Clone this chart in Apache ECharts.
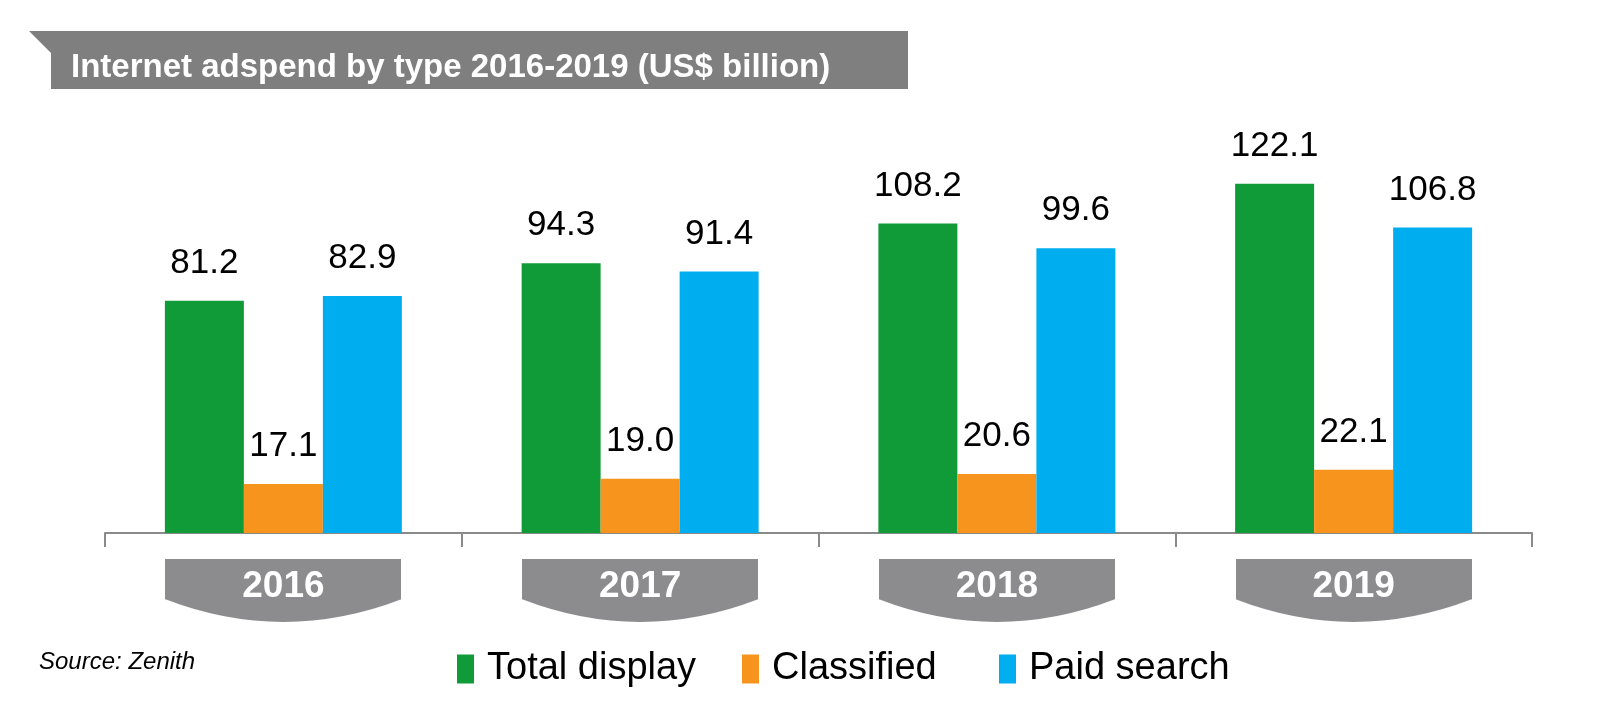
<!DOCTYPE html>
<html>
<head>
<meta charset="utf-8">
<script src="https://cdn.jsdelivr.net/npm/echarts@6/dist/echarts.min.js"></script>
<style>
html, body { margin: 0; padding: 0; background: #fff; }
#main { width: 1600px; height: 710px; }
</style>
</head>
<body>
<div id="main"></div>
<script>
var years = ['2016', '2017', '2018', '2019'];
var seriesNames = ['Total display', 'Classified', 'Paid search'];
var totalDisplay = [81.2, 94.3, 108.2, 122.1];
var classified = [17.1, 19.0, 20.6, 22.1];
var paidSearch = [82.9, 91.4, 99.6, 106.8];

// grey tab behind each year label: flat top, curved bottom
function makeTab(w, h) {
    var c = document.createElement('canvas');
    c.width = w;
    c.height = h;
    var ctx = c.getContext('2d');
    var side = h * 0.64;
    ctx.fillStyle = '#8c8c8e';
    ctx.beginPath();
    ctx.moveTo(0, 0);
    ctx.lineTo(w, 0);
    ctx.lineTo(w, side);
    ctx.quadraticCurveTo(w / 2, h + (h - side), 0, side);
    ctx.closePath();
    ctx.fill();
    return c;
}
var tab = makeTab(236, 63);

var myChart = echarts.init(document.getElementById('main'));
var labelStyle = {
    show: true,
    position: 'top',
    distance: 20,
    color: '#000',
    fontSize: 35,
    fontFamily: 'Liberation Sans',
    formatter: function (p) { return p.value.toFixed(1); }
};

// one legend per item so the gaps can follow the original
var legendLeft = [452, 737, 994];
var legends = seriesNames.map(function (name, i) {
    return {
        left: legendLeft[i],
        top: 645,
        itemWidth: 17,
        itemHeight: 29,
        icon: 'rect',
        textStyle: {
            fontSize: 38,
            fontFamily: 'Liberation Sans',
            color: '#000',
            padding: [0, 0, 0, 8]
        },
        data: [name]
    };
});

option = {
    animation: false,
    title: {
        text: 'Internet adspend by type 2016-2019 (US$ billion)',
        left: 66,
        top: 46,
        textStyle: {
            color: '#fff',
            fontSize: 33,
            fontWeight: 'bold',
            fontFamily: 'Liberation Sans'
        }
    },
    graphic: [{
        type: 'polygon',
        z: -1,
        shape: {
            points: [[29, 31], [908, 31], [908, 89], [51, 89], [51, 53]]
        },
        style: { fill: '#7f7f7f' }
    }, {
        type: 'text',
        left: 39,
        top: 650,
        style: {
            text: 'Source: Zenith',
            fontSize: 24,
            fontStyle: 'italic',
            fontFamily: 'Liberation Sans',
            fill: '#000'
        }
    }],
    legend: legends,
    grid: {
        left: 105,
        right: 68,
        top: 104,
        bottom: 177
    },
    xAxis: {
        type: 'category',
        data: years,
        axisLine: { lineStyle: { color: '#8a8a8a', width: 2 } },
        axisTick: { show: true, length: 14, lineStyle: { color: '#8a8a8a', width: 2 } },
        axisLabel: {
            margin: 26,
            formatter: function (v) { return '{tab|' + v + '}'; },
            rich: {
                tab: {
                    width: 236,
                    height: 56,
                    padding: [0, 0, 7, 0],
                    align: 'center',
                    backgroundColor: { image: tab },
                    color: '#fff',
                    fontSize: 37,
                    fontWeight: 'bold',
                    fontFamily: 'Liberation Sans'
                }
            }
        }
    },
    yAxis: {
        type: 'value',
        min: 0,
        max: 150,
        show: false
    },
    series: [{
        name: seriesNames[0],
        type: 'bar',
        barWidth: 79,
        barGap: '0%',
        itemStyle: { color: '#119a38' },
        label: labelStyle,
        data: totalDisplay
    }, {
        name: seriesNames[1],
        type: 'bar',
        barWidth: 79,
        barGap: '0%',
        itemStyle: { color: '#f6941e' },
        label: labelStyle,
        data: classified
    }, {
        name: seriesNames[2],
        type: 'bar',
        barWidth: 79,
        barGap: '0%',
        itemStyle: { color: '#00aeef' },
        label: labelStyle,
        data: paidSearch
    }]
};
myChart.setOption(option);
</script>
</body>
</html>
